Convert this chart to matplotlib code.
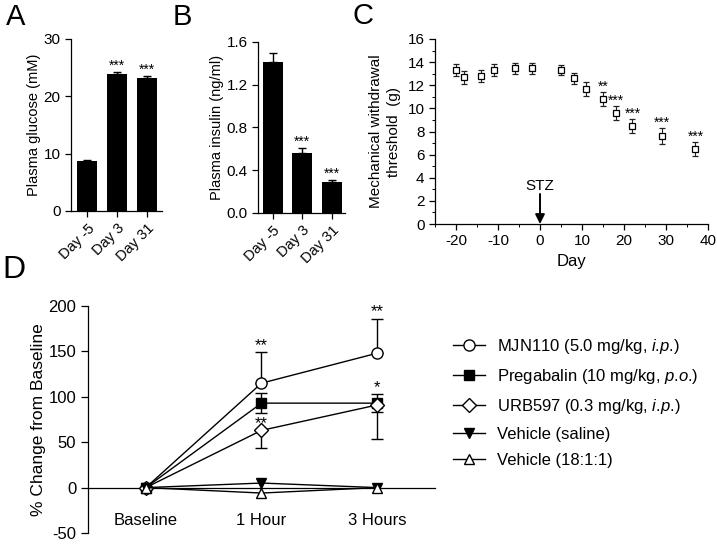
import numpy as np
import matplotlib
matplotlib.use("Agg")
import matplotlib.pyplot as plt
from matplotlib.ticker import MultipleLocator, FormatStrFormatter

plt.rcParams['font.family'] = ['Liberation Sans', 'DejaVu Sans']
plt.rcParams['mathtext.fontset'] = 'custom'
plt.rcParams['mathtext.rm'] = 'Liberation Sans'
plt.rcParams['mathtext.it'] = 'Liberation Sans:italic'
plt.rcParams['axes.unicode_minus'] = False
plt.rcParams['axes.linewidth'] = 0.9

# ---- data ----
bar_labels = ['Day -5', 'Day 3', 'Day 31']
glucose = [8.8, 23.9, 23.2]
glucose_err = [0.1, 0.4, 0.4]
glucose_sig = ['', '***', '***']
insulin = [1.41, 0.56, 0.29]
insulin_err = [0.09, 0.05, 0.02]
insulin_sig = ['', '***', '***']

days = [-20, -18, -14, -11, -6, -2, 5, 8, 11, 15, 18, 22, 29, 37]
threshold = [13.3, 12.7, 12.8, 13.3, 13.45, 13.45, 13.3, 12.6, 11.7, 10.8, 9.6, 8.5, 7.6, 6.5]
threshold_err = [0.5, 0.55, 0.5, 0.5, 0.45, 0.45, 0.45, 0.5, 0.6, 0.6, 0.6, 0.6, 0.7, 0.6]
threshold_sig = ['', '', '', '', '', '', '', '', '', '**', '***', '***', '***', '***']

times = ['Baseline', '1 Hour', '3 Hours']
mjn110 = [0, 115, 148]
mjn110_err_up = [0, 34, 38]
mjn110_sig = ['', '**', '**']
pregabalin = [0, 93, 93]
pregabalin_err = [0, 11, 10]
pregabalin_sig = ['', '', '*']
urb597 = [0, 63, 91]
urb597_err_low = [0, 19, 37]
urb597_sig = ['', '**', '']
veh_saline = [0, 5, 0]
veh_181 = [0, -6, 0]

fig = plt.figure(figsize=(7.17, 5.46), dpi=100)


def bar_panel(ax, vals, errs, sig, ylim, yticks, fmt):
    x = np.arange(len(vals))
    ax.bar(x, vals, width=0.67, color='black', zorder=2)
    ax.errorbar(x, vals, yerr=[np.zeros(len(vals)), errs], fmt='none',
                ecolor='black', elinewidth=1, capsize=3, capthick=1, zorder=1)
    for xi, v, e, s in zip(x, vals, errs, sig):
        if s:
            ax.annotate(s, (xi, v + e), xytext=(0, 1.5), textcoords='offset points',
                        ha='center', va='baseline', fontsize=10)
    ax.set_ylim(*ylim)
    ax.set_yticks(yticks)
    ax.yaxis.set_major_formatter(FormatStrFormatter(fmt))
    ax.set_xticks(x)
    ax.set_xticklabels(bar_labels, rotation=45, ha='right', rotation_mode='anchor', fontsize=10.5)
    ax.spines['top'].set_visible(False)
    ax.spines['right'].set_visible(False)
    ax.tick_params(direction='out', length=4, width=0.9, labelsize=11)
    ax.tick_params(axis='x', labelsize=10.5)


# A
axA = fig.add_axes([0.099, 0.6136, 0.127, 0.315])
bar_panel(axA, glucose, glucose_err, glucose_sig, (0, 30), [0, 10, 20, 30], '%d')
axA.set_xlim(-0.55, 2.5)
axA.set_ylabel('Plasma glucose (mM)', fontsize=10.5, labelpad=2)

# B
axB = fig.add_axes([0.3598, 0.6099, 0.1213, 0.3132])
bar_panel(axB, insulin, insulin_err, insulin_sig, (0, 1.6), [0, 0.4, 0.8, 1.2, 1.6], '%.1f')
axB.set_xlim(-0.5, 2.45)
axB.set_ylabel('Plasma insulin (ng/ml)', fontsize=10.5, labelpad=2)

# C
axC = fig.add_axes([0.6067, 0.5897, 0.3808, 0.3389])
axC.errorbar(days, threshold, yerr=threshold_err, fmt='s', ms=4.5, mfc='white', mec='black',
             mew=0.9, ecolor='#222222', elinewidth=0.8, capsize=2.5, capthick=0.8, ls='none')
for d, v, e, s in zip(days, threshold, threshold_err, threshold_sig):
    if s:
        axC.annotate(s, (d, v + e), xytext=(0, 1), textcoords='offset points',
                     ha='center', va='baseline', fontsize=10)
axC.annotate('', xy=(0, 0), xytext=(0, 2.6),
             arrowprops=dict(arrowstyle='-|>', color='black', lw=1.4, mutation_scale=14,
                             shrinkA=0, shrinkB=0))
axC.text(0, 2.9, 'STZ', ha='center', va='baseline', fontsize=11)
axC.set_xlim(-25, 40)
axC.set_ylim(0, 16)
axC.set_xticks([-20, -10, 0, 10, 20, 30, 40])
axC.set_yticks(range(0, 17, 2))
axC.yaxis.set_minor_locator(MultipleLocator(1))
axC.xaxis.set_minor_locator(MultipleLocator(5))
axC.spines['top'].set_visible(False)
axC.spines['right'].set_visible(False)
axC.tick_params(direction='out', length=4, width=0.9, labelsize=11)
axC.tick_params(which='minor', direction='out', length=2, width=0.7)
axC.set_xlabel('Day', fontsize=12, labelpad=4)
axC.set_ylabel('Mechanical withdrawal\nthreshold  (g)', fontsize=11, labelpad=5,
               linespacing=1.35)

# D
axD = fig.add_axes([0.1227, 0.0238, 0.484, 0.4158])
x = np.arange(len(times))
zeros = np.zeros(len(times))
mk = dict(color='black', lw=1, mec='black', mew=1, zorder=3)
l1, = axD.plot(x, mjn110, marker='o', ms=8, mfc='white',
               label=r'MJN110 (5.0 mg/kg, $\mathit{i}$.$\mathit{p}$.)', **mk)
l2, = axD.plot(x, pregabalin, marker='s', ms=7, mfc='black',
               label=r'Pregabalin (10 mg/kg, $\mathit{p}$.$\mathit{o}$.)', **mk)
l3, = axD.plot(x, urb597, marker='D', ms=7.5, mfc='white',
               label=r'URB597 (0.3 mg/kg, $\mathit{i}$.$\mathit{p}$.)', **mk)
l4, = axD.plot(x, veh_saline, marker='v', ms=7.5, mfc='black',
               label='Vehicle (saline)', **mk)
l5, = axD.plot(x, veh_181, marker='^', ms=7.5, mfc='white',
               label='Vehicle (18:1:1)', **mk)
eb = dict(fmt='none', ecolor='black', elinewidth=1, capsize=4, capthick=1, zorder=2)
axD.errorbar(x, mjn110, yerr=[zeros, mjn110_err_up], **eb)
axD.errorbar(x, pregabalin, yerr=pregabalin_err, **eb)
axD.errorbar(x, urb597, yerr=[urb597_err_low, zeros], **eb)

for vals, up, sig in [(mjn110, mjn110_err_up, mjn110_sig),
                      (pregabalin, pregabalin_err, pregabalin_sig),
                      (urb597, zeros, urb597_sig)]:
    for xi, v, e, s in zip(x, vals, up, sig):
        if s:
            axD.annotate(s, (xi, v + e), xytext=(0, 1.5), textcoords='offset points',
                         ha='center', va='baseline', fontsize=12, zorder=4)

axD.set_xlim(-0.5, 2.5)
axD.set_ylim(-50, 200)
axD.set_yticks([-50, 0, 50, 100, 150, 200])
axD.set_xticks(x)
axD.set_xticklabels(times)
axD.spines['top'].set_visible(False)
axD.spines['right'].set_visible(False)
axD.spines['bottom'].set_position(('data', 0))
axD.tick_params(axis='y', direction='out', length=5, width=0.9, labelsize=12)
axD.tick_params(axis='x', length=0, pad=18.5, labelsize=12)
axD.set_ylabel('% Change from Baseline', fontsize=12.5, labelpad=2)

fig.legend(handles=[l1, l2, l3, l4, l5], loc='upper left',
           bbox_to_anchor=(453 / 717, 1 - 337 / 546), frameon=False, fontsize=12,
           handlelength=1.9, handletextpad=0.75, labelspacing=0.66,
           borderpad=0, borderaxespad=0)

# panel letters
fig.text(6 / 717, 1 - 3 / 546, 'A', fontsize=21, va='top', ha='left')
fig.text(173 / 717, 1 - 3 / 546, 'B', fontsize=21, va='top', ha='left')
fig.text(353 / 717, 1 - 2 / 546, 'C', fontsize=21, va='top', ha='left')
fig.text(2 / 717, 1 - 255 / 546, 'D', fontsize=23, va='top', ha='left')

fig.savefig('out.png', dpi=100)
